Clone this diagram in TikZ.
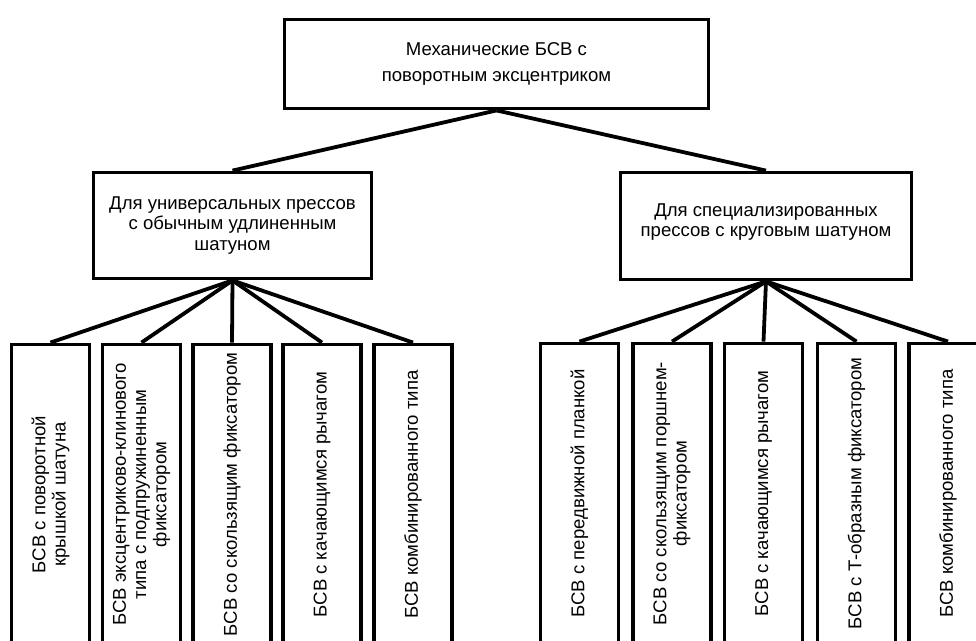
\documentclass[tikz,border=0pt]{standalone}
\usepackage{fontspec}
\setmainfont{Liberation Sans}
\usetikzlibrary{positioning}
\definecolor{inkblack}{HTML}{000000}
\tikzset{
  blockbox/.style={draw=inkblack,line width=2.7pt,align=center,inner sep=2pt},
  leafbox/.style={blockbox,rotate=90,minimum width=7.5cm,minimum height=1.95cm},
  link/.style={draw=inkblack,line width=2.7pt}
}

\begin{document}
\begin{tikzpicture}[x=0.025cm,y=-0.025cm,font=\fontsize{13.2}{14.4}\selectfont]
    % page frame: the leaf boxes run off the lower and right edges
    \useasboundingbox (0,0) rectangle (976,640);
    \clip (0,0) rectangle (976,640);

    \node[blockbox,minimum width=10.6cm,minimum height=2.225cm] (mech) at (496.5,64)
      {Механические БСВ с\\[3.5pt]поворотным эксцентриком};
    \node[blockbox,minimum width=6.95cm,minimum height=2.65cm] (univ) at (232.5,225.5)
      {Для универсальных прессов\\с обычным удлиненным\\шатуном};
    \node[blockbox,minimum width=7.275cm,minimum height=2.675cm] (spec) at (766,226)
      {Для специализированных\\прессов с круговым шатуном\\[-6pt]};

    \foreach \nm/\xx/\txt in {
        ua/50.5/{БСВ с поворотной\\крышкой шатуна},
        ub/141.5/{БСВ эксцентриково-клинового\\типа с подпружиненным\\фиксатором},
        uc/232/{БСВ со скользящим фиксатором},
        ud/322/{БСВ с качающимся рычагом},
        ue/413/{БСВ комбинированного типа}}
      \node[leafbox] (\nm) at (\xx,494.5) {\txt};

    \foreach \nm/\xx/\txt in {
        sa/579.5/{БСВ с передвижной планкой},
        sb/672/{БСВ со скользящим поршнем-\\фиксатором},
        sc/763.5/{БСВ с качающимся рычагом},
        sd/856.5/{БСВ с Т-образным фиксатором},
        se/948/{БСВ комбинированного типа}}
      \node[leafbox] (\nm) at (\xx,493.5) {\txt};

    \draw[link] (mech.south) -- (univ.north);
    \draw[link] (mech.south) -- (spec.north);
    \foreach \nm in {ua,ub,uc,ud,ue}
      \draw[link] (univ.south) -- (\nm.east);
    \foreach \nm in {sa,sb,sc,sd,se}
      \draw[link] (spec.south) -- (\nm.east);
  \end{tikzpicture}
\end{document}
